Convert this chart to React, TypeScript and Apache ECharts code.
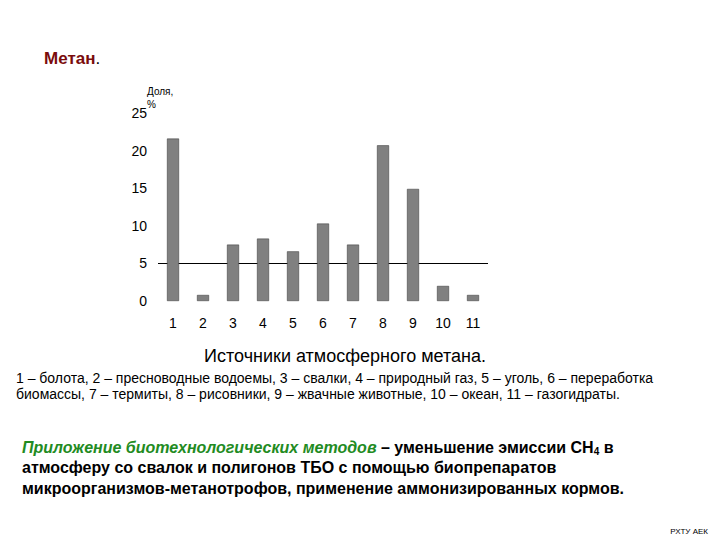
import React, { useEffect, useRef } from 'react';
import * as echarts from 'echarts';

// источники метана, доля %
const categories = ['1', '2', '3', '4', '5', '6', '7', '8', '9', '10', '11'];
const shares = [21.6, 0.8, 7.5, 8.3, 6.6, 10.3, 7.5, 20.7, 14.9, 2.0, 0.8];
const yMin = 0;
const yMax = 25;
const yStep = 5;
const refLineValue = 5;

const FONT = "'Liberation Sans', Arial, sans-serif";

const legendLines = [
  '1 – болота, 2 – пресноводные водоемы, 3 – свалки, 4 – природный газ, 5 – уголь, 6 – переработка',
  'биомассы, 7 – термиты, 8 – рисовники, 9 – жвачные животные, 10 – океан, 11 – газогидраты.',
];

const App: React.FC = () => {
  const chartRef = useRef<HTMLDivElement>(null);

  useEffect(() => {
    if (!chartRef.current) return;
    const chart = echarts.init(chartRef.current, undefined, { renderer: 'svg' });

    const option = {
      animation: false,
      backgroundColor: '#fff',
      grid: { left: 158, top: 113, width: 330, height: 188 },
      xAxis: {
        type: 'category',
        data: categories,
        axisLine: { show: false },
        axisTick: { show: false },
        axisLabel: { color: '#000', fontSize: 14, fontFamily: FONT, margin: 15 },
      },
      yAxis: {
        type: 'value',
        min: yMin,
        max: yMax,
        interval: yStep,
        axisLine: { show: false },
        axisTick: { show: false },
        splitLine: { show: false },
        axisLabel: { color: '#000', fontSize: 14, fontFamily: FONT, margin: 11 },
      },
      series: [
        {
          type: 'bar',
          data: shares,
          barWidth: 12,
          z: 2,
          itemStyle: { color: '#808080', borderColor: '#333', borderWidth: 0.5 },
          markLine: {
            z: 1,
            silent: true,
            symbol: ['none', 'none'],
            label: { show: false },
            lineStyle: { color: '#000', width: 1, type: 'solid' },
            data: [{ yAxis: refLineValue }],
          },
        },
      ],
      graphic: [
        {
          type: 'text',
          left: 44,
          top: 50,
          style: {
            text: '{r|Метан}{k|.}',
            rich: {
              r: { fontSize: 17, fontFamily: FONT, fill: '#7a0c0c', fontWeight: 'bold' },
              k: { fontSize: 17, fontFamily: FONT, fill: '#000' },
            },
          },
        },
        {
          type: 'text',
          left: 147,
          top: 86,
          style: { text: 'Доля,', fontSize: 10, fontFamily: FONT, fill: '#000' },
        },
        {
          type: 'text',
          left: 147,
          top: 99,
          style: { text: '%', fontSize: 10, fontFamily: FONT, fill: '#000' },
        },
        {
          type: 'text',
          x: 345,
          y: 347,
          style: {
            text: 'Источники атмосферного метана.',
            fontSize: 18,
            fontFamily: FONT,
            fill: '#000',
            align: 'center',
          },
        },
        {
          type: 'text',
          left: 16,
          top: 370,
          style: {
            text: legendLines.join('\n'),
            fontSize: 14,
            lineHeight: 16,
            fontFamily: FONT,
            fill: '#000',
          },
        },
        {
          type: 'text',
          left: 22,
          top: 438,
          style: {
            text:
              '{g|Приложение биотехнологических методов}{b| – уменьшение эмиссии CH}{s|4}{b| в}\n' +
              '{b|атмосферу со свалок и полигонов ТБО с помощью биопрепаратов}\n' +
              '{b|микроорганизмов-метанотрофов, применение аммонизированных кормов.}',
            rich: {
              g: {
                fontSize: 16,
                fontWeight: 'bold',
                fontStyle: 'italic',
                fontFamily: FONT,
                fill: '#228b22',
                lineHeight: 20.5,
              },
              b: { fontSize: 16, fontWeight: 'bold', fontFamily: FONT, fill: '#000', lineHeight: 20.5 },
              s: {
                fontSize: 10,
                fontWeight: 'bold',
                fontFamily: FONT,
                fill: '#000',
                padding: [8, 0, 0, 0],
                lineHeight: 20.5,
              },
            },
          },
        },
        {
          type: 'text',
          right: 12,
          top: 527,
          style: { text: 'РХТУ АЕК', fontSize: 8, fontFamily: FONT, fill: '#000' },
        },
      ],
    };

    chart.setOption(option);
    return () => {
      chart.dispose();
    };
  }, []);

  return (
    <div
      ref={chartRef}
      style={{ position: 'fixed', left: 0, top: 0, width: 720, height: 540 }}
    />
  );
};

export default App;
